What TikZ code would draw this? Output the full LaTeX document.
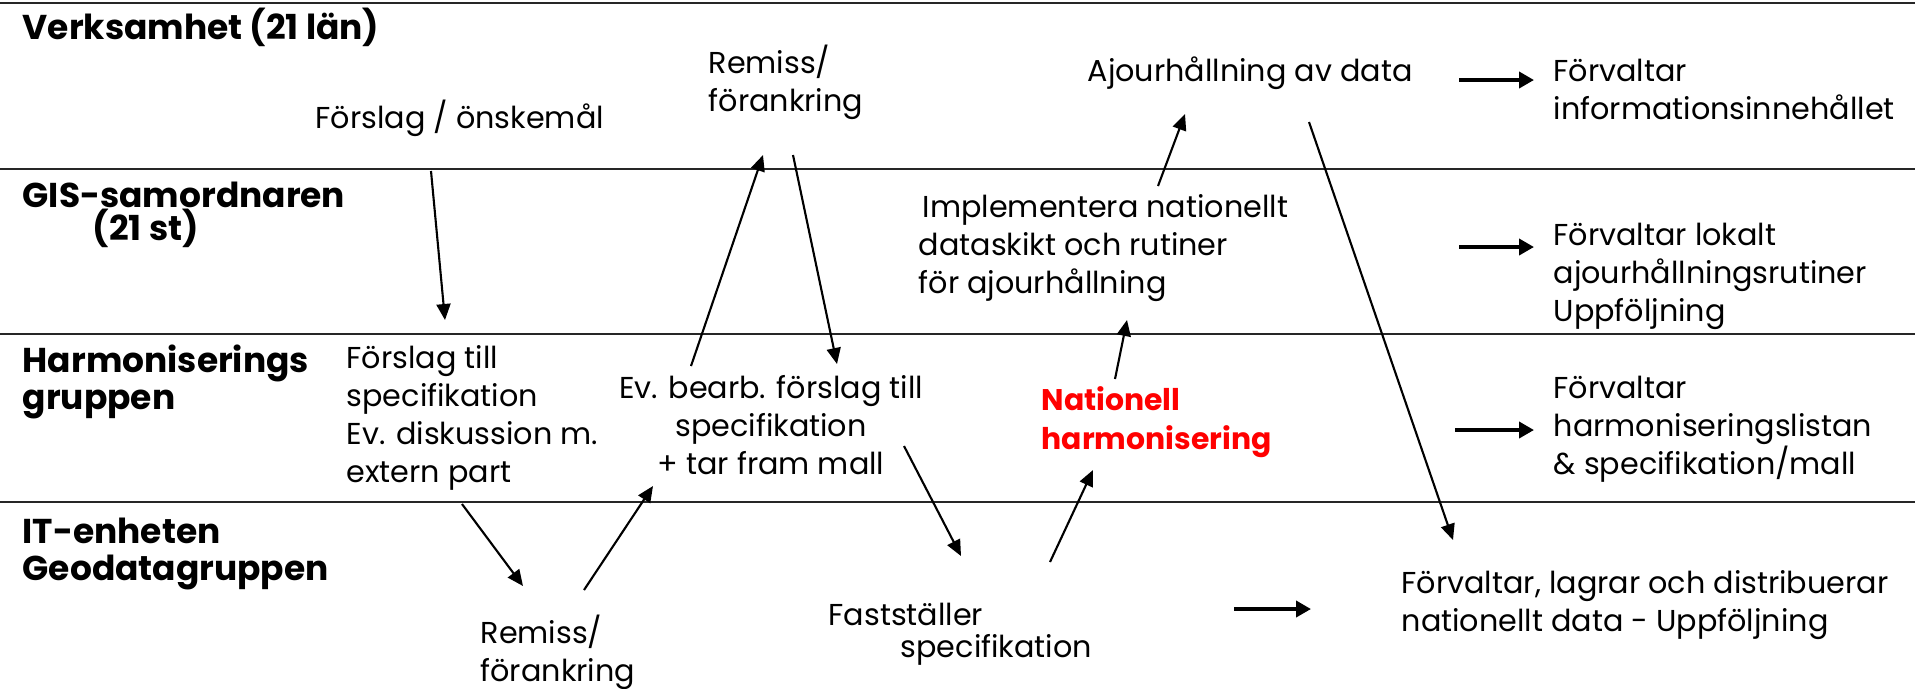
\documentclass[tikz,border=0pt]{standalone}
\usepackage{fontspec}
\setmainfont{Poppins}
\usetikzlibrary{arrows.meta}
\definecolor{natred}{RGB}{255,0,0}
\tikzset{
  lane/.style={line width=0.8pt, draw=black!85},
  hdr/.style={anchor=west, inner sep=0pt, font=\fontsize{9.8}{11.5}\selectfont\bfseries, align=left},
  txt/.style={anchor=west, inner sep=0pt, font=\fontsize{8.6}{10.8}\selectfont, align=left},
  ctxt/.style={inner sep=0pt, font=\fontsize{8.6}{10.8}\selectfont, align=center},
  redtxt/.style={anchor=west, inner sep=0pt, font=\fontsize{8.5}{11}\selectfont\bfseries, text=natred, align=left},
  flow/.style={line width=0.6pt, -{Triangle[length=1.6mm,width=1.4mm]}},
  harrow/.style={line width=1.1pt, -{Triangle[length=1.5mm,width=1.6mm]}}
}
\begin{document}
\begin{tikzpicture}[x=0.1mm, y=-0.1mm]
\useasboundingbox (0,0) rectangle (1915,688);
\fill[white] (0,0) rectangle (1915,688);
% lanes
\coordinate (l1a) at (0,3); \coordinate (l1b) at (1915,3);
\coordinate (l2a) at (0,169); \coordinate (l2b) at (1915,169);
\coordinate (l3a) at (0,334); \coordinate (l3b) at (1915,334);
\coordinate (l4a) at (0,502); \coordinate (l4b) at (1915,502);
\draw[lane] (l1a) -- (l1b);
\draw[lane] (l2a) -- (l2b);
\draw[lane] (l3a) -- (l3b);
\draw[lane] (l4a) -- (l4b);
% headers
\node[hdr] (h1) at (22,27) {Verksamhet (21 län)};
\node[hdr] (h2a) at (22,195) {GIS-samordnaren};
\node[hdr] (h2b) at (92,228) {(21 st)};
\node[hdr] (h3a) at (22,363) {Harmoniserings};
\node[hdr] (h3b) at (22,404) {gruppen};
\node[hdr] (h4a) at (22,531) {IT-enheten};
\node[hdr] (h4b) at (22,572) {Geodatagruppen};
% texts
\node[txt] (fo) at (315,118) {Förslag / önskemål};
\node[txt,anchor=north west] (rem1) at (708,44) {Remiss/\\förankring};
\node[txt] (ajour) at (1087,73) {Ajourhållning av data};
\node[txt,anchor=north west] (fv1) at (1553,58) {Förvaltar\\informationsinnehållet};
\node[txt,anchor=north west] (impl) at (918,194) {\hspace*{0.4mm}Implementera nationellt\\dataskikt och rutiner\\för ajourhållning};
\node[txt,anchor=north west] (fv2) at (1553,222) {Förvaltar lokalt\\ajourhållningsrutiner\\Uppföljning};
\node[txt,anchor=north west] (fts) at (346,345) {Förslag till\\specifikation\\Ev. diskussion m.\\extern part};
\node[ctxt,anchor=north] (evb) at (771,375) {Ev. bearb. förslag till\\specifikation\\+ tar fram mall};
\node[redtxt,anchor=north west] (nat) at (1041,386) {Nationell\\harmonisering};
\node[txt,anchor=north west] (fv3) at (1553,375) {Förvaltar\\harmoniseringslistan\\\& specifikation/mall};
\node[txt,anchor=north west] (rem2) at (480,614) {Remiss/\\förankring};
\node[txt] (fast1) at (828,614) {Fastställer};
\node[txt] (fast2) at (900,650) {specifikation};
\node[txt,anchor=north west] (fv4) at (1401,570) {Förvaltar, lagrar och distribuerar\\nationellt data - Uppföljning};
% arrow end points
\coordinate (a1s) at (431,171); \coordinate (a1e) at (445,320);
\coordinate (a2s) at (691,366); \coordinate (a2e) at (763,155);
\coordinate (a3s) at (793,155); \coordinate (a3e) at (837,364);
\coordinate (a4s) at (462,504); \coordinate (a4e) at (523,586);
\coordinate (a5s) at (584,590); \coordinate (a5e) at (653,486);
\coordinate (a6s) at (904,446); \coordinate (a6e) at (961,556);
\coordinate (a7s) at (1050,562); \coordinate (a7e) at (1093,470);
\coordinate (a8s) at (1115,379); \coordinate (a8e) at (1127,320);
\coordinate (a9s) at (1158,186); \coordinate (a9e) at (1185,114);
\coordinate (a10s) at (1309,122); \coordinate (a10e) at (1453,540);
\coordinate (b1s) at (1459,80); \coordinate (b1e) at (1534,80);
\coordinate (b2s) at (1459,247); \coordinate (b2e) at (1534,247);
\coordinate (b3s) at (1455,430); \coordinate (b3e) at (1534,430);
\coordinate (b4s) at (1234,609); \coordinate (b4e) at (1311,609);
\draw[flow] (a1s) -- (a1e);
\draw[flow] (a2s) -- (a2e);
\draw[flow] (a3s) -- (a3e);
\draw[flow] (a4s) -- (a4e);
\draw[flow] (a5s) -- (a5e);
\draw[flow] (a6s) -- (a6e);
\draw[flow] (a7s) -- (a7e);
\draw[flow] (a8s) -- (a8e);
\draw[flow] (a9s) -- (a9e);
\draw[flow] (a10s) -- (a10e);
\draw[harrow] (b1s) -- (b1e);
\draw[harrow] (b2s) -- (b2e);
\draw[harrow] (b3s) -- (b3e);
\draw[harrow] (b4s) -- (b4e);
\end{tikzpicture}
\end{document}
